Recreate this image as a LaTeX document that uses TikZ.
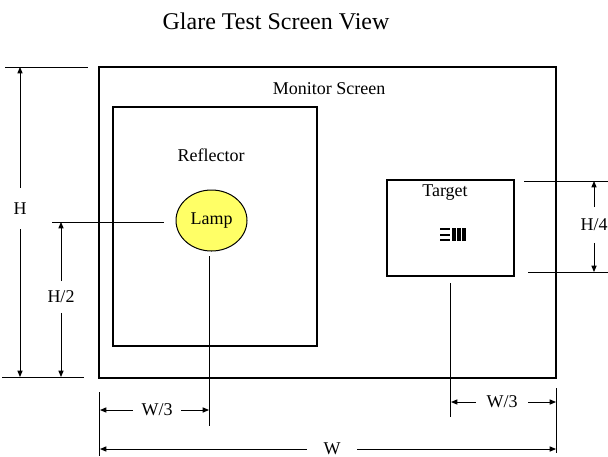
\documentclass[tikz,border=0pt]{standalone}
\usepackage{fontspec}
\setmainfont{Liberation Serif}
\usetikzlibrary{arrows.meta, positioning, shapes.geometric}

\definecolor{lampyellow}{RGB}{255,255,102}

\begin{document}
\begin{tikzpicture}[
      x=0.5pt, y=-0.5pt,
      every node/.style={font=\fontsize{9}{11}\selectfont},
      screen/.style={draw, line width=1.4pt},
      panel/.style={draw, line width=0.6pt},
      lamp/.style={ellipse, draw, line width=0.5pt, fill=lampyellow, minimum width=35.5pt, minimum height=30.5pt, inner sep=0pt},
      dimlabel/.style={inner sep=0pt},
      extline/.style={line width=0.45pt},
      dimarrow/.style={-{Triangle[length=3.2pt, width=2.6pt]}, line width=0.45pt}
      ]
      \useasboundingbox (0,0) rectangle (608,456);

      % Title
      \node[font=\fontsize{12}{14}\selectfont] (title) at (276,21) {Glare Test Screen View};

      % Screen, reflector, target
      \draw[screen] (99,67) rectangle (556,378);
      \node (monitor) at (329,89) {Monitor Screen};
      \draw[panel] (113,107) rectangle (317,346);
      \node (reflector) at (211,155) {Reflector};
      \node[lamp] (lampnode) at (211.5,220.5) {Lamp};
      \draw[panel] (387,180) rectangle (514,276);
      \node (target) at (445,193) {Target};

      % Target pattern
      \foreach \y in {229,234.5,240}
         \draw[line width=1pt] (440,\y) -- (450,\y);
      \foreach \x in {452,457,462}
         \fill (\x,228) rectangle (\x+3.5,241);

      % Extension lines
      \draw[extline] (5,67) -- (88,67);
      \draw[extline] (2,377) -- (84,377);
      \draw[extline] (52,222) -- (164,222);
      \draw[extline] (524,181) -- (608,181);
      \draw[extline] (528,272) -- (608,272);
      \draw[extline] (209,256) -- (209,426);
      \draw[extline] (450,283) -- (450,417);
      \draw[extline] (99,392) -- (99,456);
      \draw[extline] (556,388) -- (556,453);

      % Dimension labels
      \node[dimlabel, minimum height=20.5pt] (hlabel) at (20,208.5) {H};
      \node[dimlabel, minimum height=15.5pt] (hhalf) at (61,297) {H/2};
      \node[dimlabel, minimum height=17.5pt] (hquarter) at (594,225) {H/4};
      \node[dimlabel, minimum width=24pt] (wleft) at (157,410) {W/3};
      \node[dimlabel, minimum width=26pt] (wright) at (502,402) {W/3};
      \node[dimlabel, minimum width=25pt] (wlabel) at (332,449) {W};

      % Dimension arrows
      \draw[dimarrow] (hlabel) -- (20,67);
      \draw[dimarrow] (hlabel) -- (20,377);
      \draw[dimarrow] (hhalf) -- (61,222);
      \draw[dimarrow] (hhalf) -- (61,377);
      \draw[dimarrow] (hquarter) -- (594,181);
      \draw[dimarrow] (hquarter) -- (594,272);
      \draw[dimarrow] (wleft) -- (100,410);
      \draw[dimarrow] (wleft) -- (209,410);
      \draw[dimarrow] (wright) -- (451,402);
      \draw[dimarrow] (wright) -- (556,402);
      \draw[dimarrow] (wlabel) -- (100,449);
      \draw[dimarrow] (wlabel) -- (556,449);

   \end{tikzpicture}
\end{document}
